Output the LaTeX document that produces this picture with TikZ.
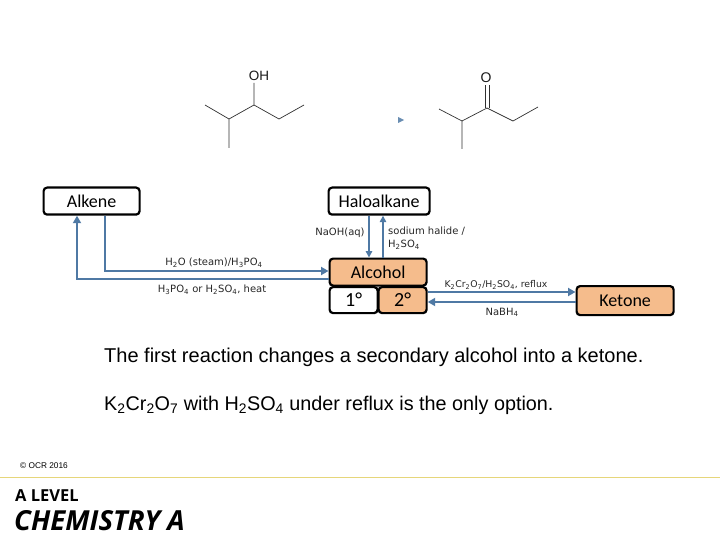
\documentclass[tikz,border=0pt]{standalone}
\usepackage{fontspec}
\setmainfont{Liberation Sans}
\newfontfamily\boxfont{Carlito}
\newfontfamily\lblfont{DejaVu Sans}
\newfontfamily\logofont{Open Sans}
\usetikzlibrary{arrows.meta}
\definecolor{arrowblue}{HTML}{4F79A4}
\definecolor{peach}{HTML}{F5BC8C}
\definecolor{rulegold}{HTML}{E6D67A}
\definecolor{bondgrey}{HTML}{303030}
\tikzset{
  chembox/.style={draw=black,line width=2.2pt,rounded corners=3.5pt,inner sep=0pt,anchor=north west,font=\boxfont\fontsize{18}{20}\selectfont},
  rxn/.style={draw=arrowblue,line width=1.9pt,-{Triangle[length=7.5pt,width=8pt]}},
  rxnlabel/.style={font=\lblfont\fontsize{10}{13.5}\selectfont,inner sep=0pt,text=black!85,align=left},
  bond/.style={draw=bondgrey,line width=0.7pt},
  bodytext/.style={font=\fontsize{20}{22}\selectfont,inner sep=0pt,anchor=base west}
}
\begin{document}
\begin{tikzpicture}[x=1pt,y=-1pt]
\useasboundingbox (0,0) rectangle (720,540);
% molecules
\coordinate (m1) at (205,105);\coordinate (m2) at (229,119);\coordinate (m3) at (254,105);
\coordinate (m4) at (279,119);\coordinate (m5) at (304,105);\coordinate (m6) at (229,148);
\coordinate (m7) at (254,83);
\draw[bond] (m1)--(m2)--(m3)--(m4)--(m5) (m2)--(m6) (m3)--(m7);
\node[inner sep=0pt,font=\fontsize{13.5}{15}\selectfont,text=black!90] (oh) at (259,76) {OH};
\coordinate (k1) at (439,109);\coordinate (k2) at (462,121);\coordinate (k3) at (487,108);
\coordinate (k4) at (513,121);\coordinate (k5) at (538,107);\coordinate (k6) at (462,149);
\draw[bond] (k1)--(k2)--(k3)--(k4)--(k5) (k2)--(k6);
\draw[bond] (485.3,108)--(485.3,85) (489.3,108)--(489.3,85);
\node[inner sep=0pt,font=\fontsize{14}{15}\selectfont,text=black!90] (ox) at (486,78) {O};
\fill[arrowblue!85] (398,117)--(404,120)--(398,123)--cycle;
% boxes
\node[chembox,minimum width=96pt,minimum height=27pt] (alkene) at (42.5,186.5) {Alkene};
\node[chembox,minimum width=101pt,minimum height=27pt] (halo) at (327.5,186.5) {Haloalkane};
\node[chembox,fill=peach,minimum width=97pt,minimum height=27pt] (alcohol) at (328.5,257.5) {Alcohol};
\node[chembox,minimum width=48pt,minimum height=26pt,font=\boxfont\fontsize{20}{20}\selectfont] (one) at (328.5,286) {1°};
\node[chembox,fill=peach,minimum width=48pt,minimum height=26pt,font=\boxfont\fontsize{20}{20}\selectfont] (two) at (377.5,286) {2°};
\node[chembox,fill=peach,minimum width=97pt,minimum height=29pt] (ketone) at (575.5,285) {Ketone};
% connector tracks
\coordinate (xa) at (105,0);\coordinate (xb) at (77,0);
\coordinate (ya) at (0,271);\coordinate (yb) at (0,279);
\coordinate (xc) at (369,0);\coordinate (xd) at (383,0);
\coordinate (ye) at (0,292);\coordinate (yf) at (0,302);
\draw[rxn] (alkene.south -| xa) |- (alcohol.west |- ya);
\draw[rxn] (alcohol.west |- yb) -| (alkene.south -| xb);
\draw[rxn,line width=1.5pt,-{Triangle[length=6.5pt,width=6.5pt]}] (halo.south -| xc) -- (alcohol.north -| xc);
\draw[rxn,line width=1.5pt,-{Triangle[length=6.5pt,width=6.5pt]}] (alcohol.north -| xd) -- (halo.south -| xd);
\draw[rxn] (two.east |- ye) -- (ketone.west |- ye);
\draw[rxn] (ketone.west |- yf) -- (two.east |- yf);
% labels
\node[rxnlabel] (l1) at (214,262.5) {H\textsubscript{2}O (steam)/H\textsubscript{3}PO\textsubscript{4}};
\node[rxnlabel] (l2) at (212,290) {H\textsubscript{3}PO\textsubscript{4} or H\textsubscript{2}SO\textsubscript{4}, heat};
\node[rxnlabel] (l3) at (340,233) {NaOH(aq)};
\node[rxnlabel,anchor=north west] (l4) at (388,226.5) {sodium halide /\\H\textsubscript{2}SO\textsubscript{4}};
\node[rxnlabel,font=\lblfont\fontsize{9.3}{12}\selectfont] (l5) at (496,285) {K\textsubscript{2}Cr\textsubscript{2}O\textsubscript{7}/H\textsubscript{2}SO\textsubscript{4}, reflux};
\node[rxnlabel] (l6) at (502,312.5) {NaBH\textsubscript{4}};
% body
\node[bodytext] (t1) at (104,362) {The first reaction changes a secondary alcohol into a ketone.};
\node[bodytext,font=\fontsize{19.8}{22}\selectfont] (t2) at (104,410) {K\textsubscript{2}Cr\textsubscript{2}O\textsubscript{7} with H\textsubscript{2}SO\textsubscript{4} under reflux is the only option.};
% footer
\node[inner sep=0pt,anchor=west,font=\fontsize{8.3}{9}\selectfont] (c) at (20,466) {© OCR 2016};
\draw[rulegold,line width=1.2pt] (0,477.5) -- (720,477.5);
\node[inner sep=0pt,anchor=base west,font=\logofont\bfseries\fontsize{16.5}{17}\selectfont] (al) at (15,501) {A LEVEL};
\node[inner sep=0pt,anchor=base west,font=\logofont\bfseries\itshape\fontsize{27.6}{29}\selectfont] (ca) at (14,530) {CHEMISTRY A};
\end{tikzpicture}
\end{document}
